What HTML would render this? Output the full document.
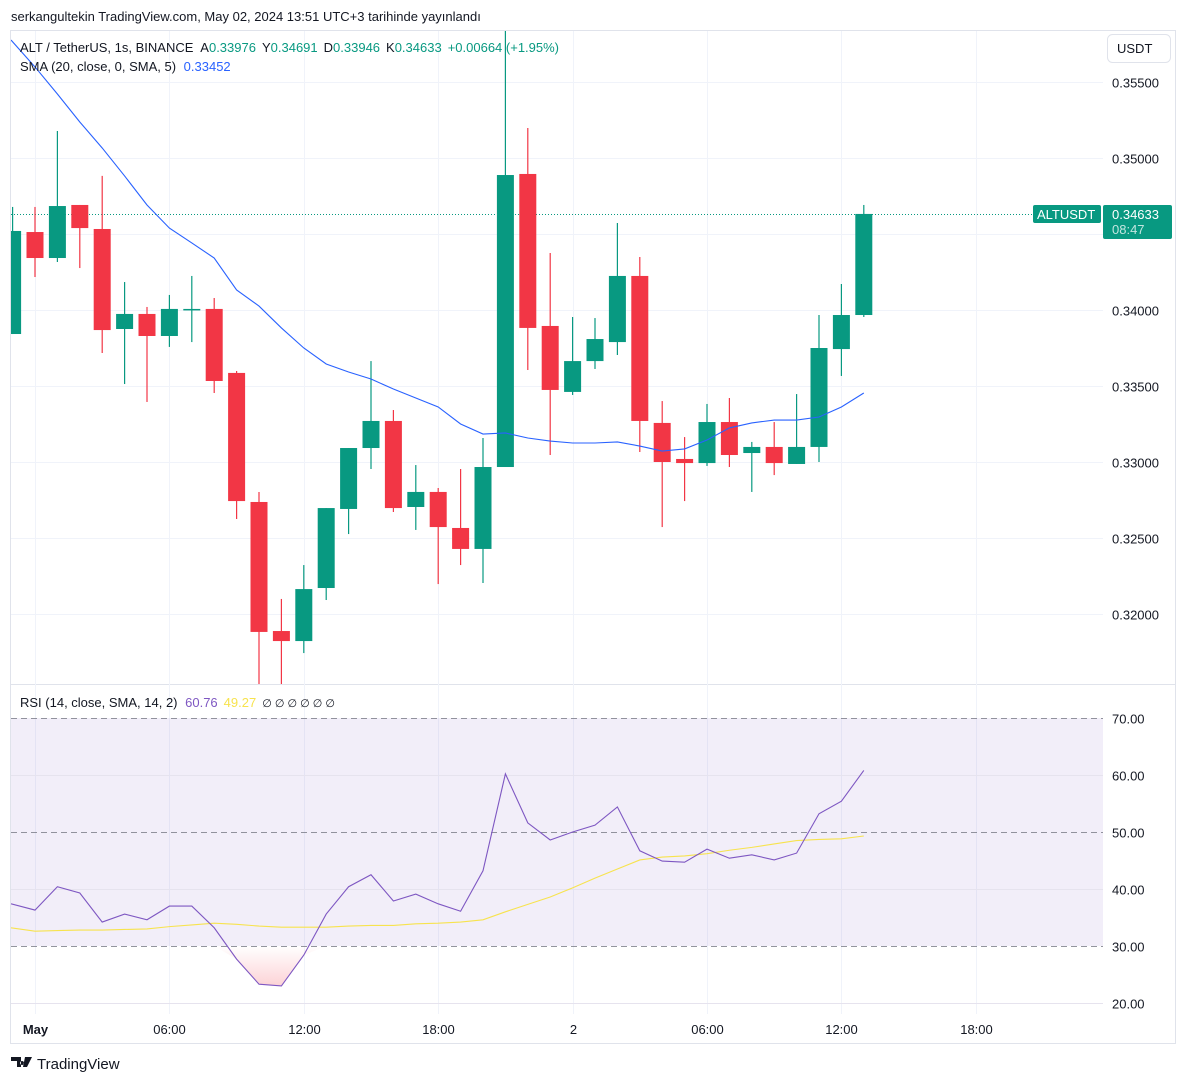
<!DOCTYPE html>
<html><head><meta charset="utf-8">
<style>
html,body{margin:0;padding:0;background:#fff;width:1186px;height:1083px;overflow:hidden;font-family:"Liberation Sans",sans-serif;}
svg text{font-family:"Liberation Sans",sans-serif;}
</style></head>
<body>
<svg id="chart" width="1186" height="1083" viewBox="0 0 1186 1083" xmlns="http://www.w3.org/2000/svg">
<defs>
<clipPath id="mainClip"><rect x="11" y="31" width="1092" height="653"/></clipPath>
<clipPath id="rsiClip"><rect x="11" y="686" width="1092" height="328"/></clipPath>
<linearGradient id="redFill" x1="0" y1="0" x2="0" y2="1"><stop offset="0" stop-color="#f23645" stop-opacity="0"/><stop offset="1" stop-color="#f23645" stop-opacity="0.22"/></linearGradient>
</defs>
<text x="11" y="21" font-size="13" fill="#131722">serkangultekin TradingView.com, May 02, 2024 13:51 UTC+3 tarihinde yayınlandı</text>
<rect x="10.5" y="30.5" width="1165" height="1013" fill="none" stroke="#e0e3eb"/>
<line x1="11" y1="684.5" x2="1175" y2="684.5" stroke="#e0e3eb"/>
<g id="grid"></g>
<rect x="11" y="718" width="1092" height="228" fill="#7e57c2" fill-opacity="0.1"/>
<g id="rsiGrid"></g>
<g id="main" clip-path="url(#mainClip)"></g>
<g id="rsi" clip-path="url(#rsiClip)"></g>
<g id="axes"></g>
<g font-size="13">
<text x="20" y="52" fill="#131722">ALT / TetherUS, 1s, BINANCE <tspan dx="4">A</tspan><tspan fill="#089981">0.33976</tspan><tspan dx="6">Y</tspan><tspan fill="#089981">0.34691</tspan><tspan dx="6">D</tspan><tspan fill="#089981">0.33946</tspan><tspan dx="6">K</tspan><tspan fill="#089981">0.34633</tspan><tspan dx="6" fill="#089981">+0.00664 (+1.95%)</tspan></text>
<text x="20" y="71" fill="#131722">SMA (20, close, 0, SMA, 5) <tspan dx="4" fill="#2962ff">0.33452</tspan></text>
</g>
<g font-size="13">
<text x="20" y="707" fill="#131722">RSI (14, close, SMA, 14, 2) <tspan dx="4" fill="#7e57c2">60.76</tspan><tspan dx="6" fill="#f7e34e">49.27</tspan><tspan dx="6" font-size="11">∅  ∅  ∅  ∅  ∅  ∅</tspan></text>
</g>
<g>
<rect x="1107.5" y="34.5" width="63" height="28" rx="5" fill="#fff" stroke="#e0e3eb"/>
<text x="1117" y="53" font-size="13" fill="#131722">USDT</text>
</g>
<g>
<rect x="1033" y="205" width="68" height="18" rx="2" fill="#089981"/>
<text x="1037" y="219" font-size="13" fill="#fff">ALTUSDT</text>
<rect x="1103" y="205" width="69" height="34" rx="2" fill="#089981"/>
<text x="1112" y="219" font-size="13" fill="#fff">0.34633</text>
<text x="1112" y="234" font-size="13" fill="#fff" fill-opacity="0.75">08:47</text>
</g>
<g>
<path d="M11 1057h10v10h-4v-6h-6z M22 1061a2 2 0 1 0 0.1 0z M25 1057h7l-5 10h-4z" fill="#131722"/>
<text x="37" y="1069" font-size="15" fill="#131722">TradingView</text>
</g>
</svg>
<script>
var ohlcOpen =[0.33842,0.34513,0.34342,0.34691,0.34533,0.33875,0.33974,0.33829,0.34007,0.34007,0.33586,0.32737,0.31888,0.31822,0.32171,0.32691,0.33092,0.33270,0.32704,0.32803,0.32566,0.32428,0.32967,0.34895,0.33895,0.33461,0.33664,0.33789,0.34224,0.33257,0.33020,0.32993,0.33263,0.33059,0.33099,0.32987,0.33099,0.33743,0.33967];
var ohlcHigh =[0.34678,0.34678,0.35178,0.34691,0.34882,0.34184,0.34020,0.34099,0.34224,0.34079,0.33599,0.32803,0.32099,0.32322,0.32697,0.33092,0.33664,0.33342,0.32980,0.32829,0.32954,0.33158,0.35842,0.35197,0.34375,0.33954,0.33947,0.34572,0.34349,0.33401,0.33164,0.33382,0.33421,0.33132,0.33263,0.33447,0.33967,0.34171,0.34691];
var ohlcLow  =[0.33842,0.34217,0.34316,0.34276,0.33717,0.33513,0.33395,0.33757,0.33789,0.33454,0.32625,0.31500,0.31500,0.31743,0.32092,0.32526,0.32954,0.32671,0.32553,0.32197,0.32322,0.32204,0.32967,0.33605,0.33046,0.33441,0.33612,0.33704,0.33066,0.32572,0.32743,0.32974,0.32967,0.32803,0.32914,0.32987,0.33000,0.33566,0.33954];
var ohlcClose=[0.34520,0.34342,0.34684,0.34539,0.33868,0.33974,0.33829,0.34007,0.34007,0.33533,0.32743,0.31882,0.31822,0.32164,0.32697,0.33092,0.33270,0.32697,0.32803,0.32572,0.32428,0.32967,0.34888,0.33882,0.33474,0.33664,0.33809,0.34224,0.33270,0.33000,0.32993,0.33263,0.33046,0.33099,0.32993,0.33099,0.33750,0.33967,0.34632];
var smaValues=[0.35776,0.35599,0.35421,0.35237,0.35066,0.34882,0.34691,0.34539,0.34441,0.34342,0.34132,0.34026,0.33882,0.33750,0.33645,0.33592,0.33546,0.33480,0.33421,0.33362,0.33250,0.33184,0.33191,0.33158,0.33138,0.33125,0.33125,0.33132,0.33105,0.33072,0.33086,0.33145,0.33224,0.33257,0.33276,0.33276,0.33296,0.33362,0.33454];
var rsiValues=[37.4,36.3,40.4,39.3,34.2,35.6,34.6,37.0,37.0,33.2,27.7,23.3,23.0,28.4,35.6,40.4,42.5,37.9,39.1,37.4,36.1,43.2,60.2,51.6,48.6,50.0,51.2,54.4,46.7,44.9,44.7,47.0,45.4,46.0,45.1,46.3,53.2,55.4,60.8];
var rsiSmaValues=[33.2,32.6,32.7,32.8,32.8,32.9,33.0,33.4,33.7,34.0,33.8,33.5,33.3,33.3,33.3,33.5,33.6,33.6,33.9,34.0,34.2,34.6,36.0,37.3,38.6,40.2,41.9,43.5,45.1,45.6,45.8,46.2,46.8,47.3,47.9,48.5,48.7,48.8,49.3];
var priceTicks=[0.355,0.350,0.345,0.340,0.335,0.330,0.325,0.320];
var priceTickLabels=["0.35500","0.35000","0.34500","0.34000","0.33500","0.33000","0.32500","0.32000"];
var rsiTicks=[70,60,50,40,30,20];
var rsiTickLabels=["70.00","60.00","50.00","40.00","30.00","20.00"];
var timeTickIdx=[0,6,12,18,24,30,36,42];
var timeTickLabels=["May","06:00","12:00","18:00","2","06:00","12:00","18:00"];
var firstIndex=-1;

var NS="http://www.w3.org/2000/svg";
function xAt(i){return 35+(i+firstIndex)*22.4;}
function yP(p){return 158+(0.35-p)*15200;}
function yR(v){return 718+(70-v)*5.7;}
function mk(tag,attrs,parent){var e=document.createElementNS(NS,tag);for(var k in attrs)e.setAttribute(k,attrs[k]);parent.appendChild(e);return e;}
var grid=document.getElementById('grid'),mainG=document.getElementById('main'),rsiG=document.getElementById('rsi'),axes=document.getElementById('axes'),rg=document.getElementById('rsiGrid');
var lastY=yP(ohlcClose[ohlcClose.length-1]);

priceTicks.forEach(function(p,k){
  var y=Math.round(yP(p))+0.5;
  var l=mk('line',{x1:11,x2:1103,y1:y,y2:y,stroke:'#f0f3fa'},grid);
  
  
  if(Math.abs(y-lastY)<30)return;
  var t=mk('text',{x:1112,y:y+5,'font-size':13,fill:'#131722'},axes);
  t.textContent=priceTickLabels[k];
  
  
});
timeTickIdx.forEach(function(ti,k){
  var x=Math.round(35+ti*22.4)+0.5;
  var l=mk('line',{x1:x,x2:x,y1:31,y2:1014,stroke:'#f0f3fa'},grid);
  
  
  var t=mk('text',{x:x,y:1034,'font-size':13,fill:'#131722','text-anchor':'middle','font-weight':k===0?'bold':'normal'},axes);
  t.textContent=timeTickLabels[k];
  
  
});
rsiTicks.forEach(function(v,k){
  var y=Math.round(yR(v))+0.5;
  var dashed=(v===70||v===50||v===30);
  var l=mk('line',{x1:11,x2:1103,y1:y,y2:y,stroke:dashed?'#787b86':'#e6e3ee','stroke-dasharray':dashed?'6 4':'none','stroke-opacity':dashed?0.8:1},rg);
  
  
  var t=mk('text',{x:1112,y:y+5,'font-size':13,fill:'#131722'},axes);
  t.textContent=rsiTickLabels[k];
  
  
});

(function(){var y=Math.round(lastY)+0.5;
var l=mk('line',{x1:11,x2:1103,y1:y,y2:y,stroke:'#089981','stroke-dasharray':'1 2'},mainG);

})();

for(var i=0;i<ohlcOpen.length;i++){
  var o=ohlcOpen[i],h=ohlcHigh[i],lo=ohlcLow[i],c=ohlcClose[i];
  var up=c>=o,col=up?'#089981':'#f23645',x=xAt(i);
  var g=mk('g',{},mainG);
  
  
  mk('line',{x1:x,x2:x,y1:yP(h),y2:yP(lo),stroke:col,'stroke-width':1.2},g);
  var yt=yP(Math.max(o,c)),yb=yP(Math.min(o,c));
  mk('rect',{x:x-8.5,y:yt,width:17,height:Math.max(1.5,yb-yt),fill:col},g);
}
(function(){var d='';smaValues.forEach(function(v,i){d+=(i?'L':'M')+(i===0?11:xAt(i))+' '+yP(v);});
var p=mk('path',{d:d,fill:'none',stroke:'#2962ff','stroke-width':1.1},mainG);

})();

(function(){var y30=yR(30),d='M11 '+y30;rsiValues.forEach(function(v,i){d+='L'+(i===0?11:xAt(i))+' '+Math.max(y30,yR(v));});
d+='L'+xAt(rsiValues.length-1)+' '+y30+'Z';
var p=mk('path',{d:d,fill:'url(#redFill)'},rsiG);

})();
(function(){var d='';rsiSmaValues.forEach(function(v,i){d+=(i?'L':'M')+(i===0?11:xAt(i))+' '+yR(v);});
var p=mk('path',{d:d,fill:'none',stroke:'#f7e34e','stroke-width':1.1},rsiG);

})();
(function(){var d='';rsiValues.forEach(function(v,i){d+=(i?'L':'M')+(i===0?11:xAt(i))+' '+yR(v);});
var p=mk('path',{d:d,fill:'none',stroke:'#7e57c2','stroke-width':1.1},rsiG);

})();
</script>
</body></html>
